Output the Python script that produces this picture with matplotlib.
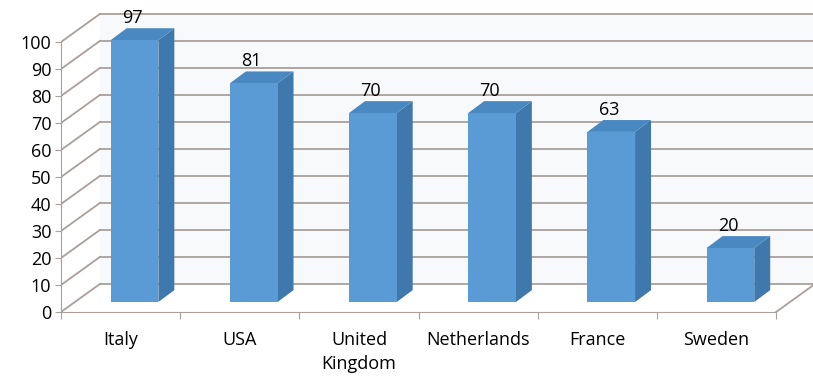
import numpy as np
import matplotlib.pyplot as plt
from matplotlib.patches import Polygon

plt.rcParams['font.family'] = ['Open Sans', 'DejaVu Sans']

countries = ["Italy", "USA", "United\nKingdom", "Netherlands", "France", "Sweden"]
values = [97, 81, 70, 70, 63, 20]
yticks = list(range(0, 101, 10))

# pseudo-3d geometry (x in category units, y in value units)
wall_dx, wall_dy = 0.327, 10.4      # depth of the back wall
bar_fx, bar_fy = 0.117, 3.7         # bar front face offset
bar_bx, bar_by = 0.251, 8.1         # bar back face offset
bar_w = 0.4
x_max = 6.31

front_col = "#5b9bd5"
side_col = "#3e78ad"
top_col = "#4a88c2"
grid_col = "#a9a09b"
fs = 13

fig = plt.figure(figsize=(8.13, 3.76), dpi=100)
ax = fig.add_axes([61 / 813, 64 / 376, (813 - 61) / 813, 302 / 376])
ax.set_xlim(0, x_max)
ax.set_ylim(0, 302 / 2.7)

# back wall shading
ax.add_patch(Polygon([(wall_dx, wall_dy), (x_max, wall_dy), (x_max, 100 + wall_dy),
                      (wall_dx, 100 + wall_dy)], closed=True, fc="#f7f9fb", ec="none", zorder=0))

# gridlines on back wall + side wall diagonals
for v in yticks:
    ax.plot([wall_dx, x_max], [v + wall_dy, v + wall_dy], color=grid_col, lw=1.3, zorder=1)
    ax.plot([0, wall_dx], [v, v + wall_dy], color=grid_col, lw=1.3, zorder=1)

# floor right edge
n = len(countries)
ax.plot([n, n + wall_dx], [0, wall_dy], color=grid_col, lw=1.3, zorder=1, clip_on=False)

# bars
for i, v in enumerate(values):
    c = i + 0.5
    l, r = c - bar_w / 2, c + bar_w / 2
    front = [(l + bar_fx, bar_fy), (r + bar_fx, bar_fy), (r + bar_fx, v + bar_fy), (l + bar_fx, v + bar_fy)]
    side = [(r + bar_fx, bar_fy), (r + bar_bx, bar_by), (r + bar_bx, v + bar_by), (r + bar_fx, v + bar_fy)]
    top = [(l + bar_fx, v + bar_fy), (r + bar_fx, v + bar_fy), (r + bar_bx, v + bar_by), (l + bar_bx, v + bar_by)]
    ax.add_patch(Polygon(side, closed=True, fc=side_col, ec="none", zorder=3))
    ax.add_patch(Polygon(top, closed=True, fc=top_col, ec="none", zorder=3))
    ax.add_patch(Polygon(front, closed=True, fc=front_col, ec="none", zorder=4))
    ax.annotate(str(v), (c + bar_fx - 0.02, v + bar_by), xytext=(0, 1), textcoords="offset points",
                ha="center", va="bottom", fontsize=fs, zorder=5)

# axes
for s in ["top", "right"]:
    ax.spines[s].set_visible(False)
ax.spines["left"].set_bounds(0, 100)
ax.spines["bottom"].set_bounds(0, n)
ax.spines["left"].set_color(grid_col)
ax.spines["bottom"].set_color(grid_col)
ax.set_yticks(yticks)
ax.tick_params(axis="y", length=4, color=grid_col, labelsize=fs, pad=3)
ax.set_xticks(np.arange(n + 1))
ax.set_xticklabels([])
ax.set_xticks(np.arange(n) + 0.5, minor=True)
ax.set_xticklabels(countries, minor=True, fontsize=fs, linespacing=1.4, va="top")
ax.tick_params(axis="x", which="major", length=5, color=grid_col)
ax.tick_params(axis="x", which="minor", length=0, pad=14)

fig.savefig("out.png", dpi=100)
